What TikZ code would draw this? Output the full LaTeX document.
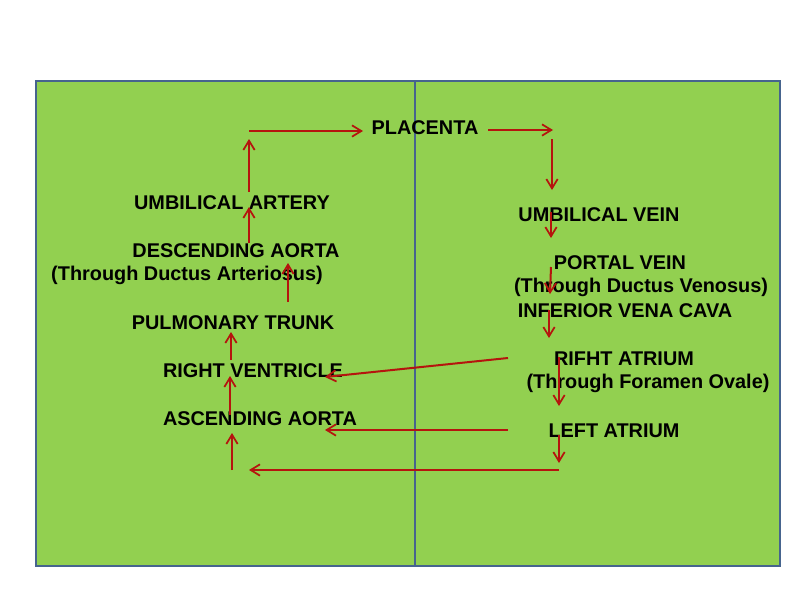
\documentclass[tikz,border=0pt]{standalone}
\usepackage{fontspec}
\setmainfont{Liberation Sans}
\usetikzlibrary{arrows.meta}
\definecolor{panelgreen}{HTML}{92D050}
\definecolor{panelborder}{HTML}{46648E}
\definecolor{flowred}{HTML}{B5140E}
\tikzset{
  label/.style={font=\bfseries\fontsize{14.9}{17}\selectfont, text=black, inner sep=0pt, anchor=center},
  panel/.style={fill=panelgreen, draw=panelborder, line width=1.6pt},
  flow/.style={draw=flowred, line width=1.5pt, -{Straight Barb[length=7pt,width=8.5pt,line width=1.3pt]}}
}
\begin{document}
\begin{tikzpicture}[x=0.75pt,y=-0.75pt]
\useasboundingbox (0,0) rectangle (800,600);
\fill[white] (0,0) rectangle (800,600);
% panels
\node[panel, minimum width=379*0.75pt, minimum height=485*0.75pt, anchor=north west, inner sep=0pt] (leftpanel) at (35,80) {};
\node[panel, minimum width=365*0.75pt, minimum height=485*0.75pt, anchor=north west, inner sep=0pt] (rightpanel) at (414,80) {};
% labels
\node[label] (placenta) at (425,128) {PLACENTA};
\node[label] (ua) at (232,203) {UMBILICAL ARTERY};
\node[label] (da) at (236,251) {DESCENDING AORTA};
\node[label] (dart) at (187,275) {(Through Ductus Arteriosus)};
\node[label] (pt) at (233,323) {PULMONARY TRUNK};
\node[label] (rv) at (253,371) {RIGHT VENTRICLE};
\node[label] (asc) at (260,419) {ASCENDING AORTA};
\node[label] (uv) at (599,215) {UMBILICAL VEIN};
\node[label] (pv) at (620,263) {PORTAL VEIN};
\node[label] (dven) at (641,287) {(Through Ductus Venosus)};
\node[label] (ivc) at (625,311) {INFERIOR VENA CAVA};
\node[label] (ra) at (624,359) {RIFHT ATRIUM};
\node[label] (fo) at (648,383) {(Through Foramen Ovale)};
\node[label] (la) at (614,431) {LEFT ATRIUM};
% arrow end points
\coordinate (a1s) at (249,131); \coordinate (a1e) at (363,131);
\coordinate (a2s) at (488,130); \coordinate (a2e) at (553,130);
\coordinate (a3s) at (552,139); \coordinate (a3e) at (552,190);
\coordinate (a4s) at (551,212); \coordinate (a4e) at (551,238);
\coordinate (a5s) at (551,267); \coordinate (a5e) at (550,294);
\coordinate (a6s) at (549,310); \coordinate (a6e) at (549,338);
\coordinate (a7s) at (559,357); \coordinate (a7e) at (559,406);
\coordinate (a8s) at (559,435); \coordinate (a8e) at (559,463);
\coordinate (a9s) at (559,470); \coordinate (a9e) at (249,470);
\coordinate (a10s) at (232,470); \coordinate (a10e) at (232,433);
\coordinate (a11s) at (508,430); \coordinate (a11e) at (325,430);
\coordinate (a12s) at (508,358); \coordinate (a12e) at (325,377);
\coordinate (a13s) at (230,415); \coordinate (a13e) at (230,376);
\coordinate (a14s) at (231,360); \coordinate (a14e) at (231,332);
\coordinate (a15s) at (288,302); \coordinate (a15e) at (288,263);
\coordinate (a16s) at (249,243); \coordinate (a16e) at (249,207);
\coordinate (a17s) at (249,192); \coordinate (a17e) at (249,139);
% arrows
\foreach \i in {1,...,17} { \draw[flow] (a\i s) -- (a\i e); }
\end{tikzpicture}
\end{document}
